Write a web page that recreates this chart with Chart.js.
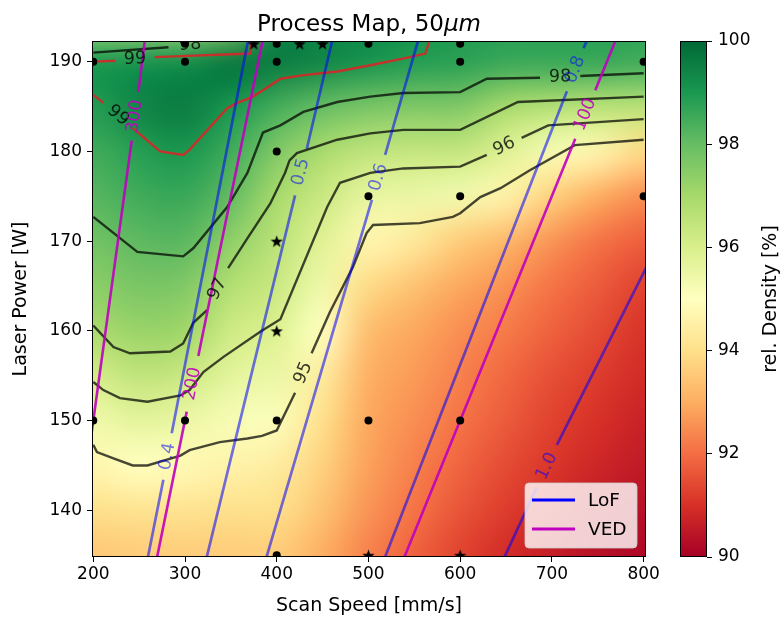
<!DOCTYPE html>
<html lang="en">
<head>
<meta charset="UTF-8">
<title>Process Map, 50µm</title>
<script src="https://cdn.jsdelivr.net/npm/chart.js"></script>
<style>
  body { margin: 0; background: #fff; }
  .wrap { position: relative; width: 784px; height: 618px; }
  #main { position: absolute; left: 0; top: 0; }
  #cbar { position: absolute; left: 640px; top: 0; }
</style>
</head>
<body>
<div class="wrap">
  <canvas id="main" width="784" height="618"></canvas>
  <canvas id="cbar" width="144" height="618"></canvas>
</div>
<script>
const FONT = "'DejaVu Sans', sans-serif";

// grid nodes of the density map: scan speed [mm/s] and laser power [W]
const speedGrid = [200, 250, 300, 350, 400, 450, 500, 550, 600, 650, 700, 750, 800];
const powerGrid = [135, 140, 145, 150, 155, 160, 165, 170, 175, 180, 185, 190, 195];
// rel. density [%], one row per power (bottom row first)
const density = [
  [93.5, 93.6, 93.6, 93.6, 93.6, 93.0, 92.3, 91.8, 91.3, 90.9, 90.6, 90.35, 90.15],
  [94.0, 94.1, 94.1, 94.0, 94.0, 93.4, 92.6, 92.1, 91.6, 91.2, 90.85, 90.55, 90.35],
  [94.7, 95.0, 94.8, 94.6, 94.4, 93.7, 92.8, 92.3, 91.85, 91.45, 91.1, 90.8, 90.55],
  [95.4, 95.7, 95.5, 95.2, 95.1, 94.0, 92.9, 92.5, 92.1, 91.7, 91.3, 91.0, 90.7],
  [96.1, 96.5, 96.3, 95.7, 95.5, 94.4, 93.05, 92.7, 92.3, 91.9, 91.5, 91.2, 90.9],
  [96.9, 97.2, 97.1, 96.2, 95.9, 95.0, 93.3, 92.9, 92.5, 92.2, 91.8, 91.45, 91.05],
  [97.4, 97.7, 97.6, 96.75, 96.3, 95.4, 93.9, 93.4, 92.9, 92.55, 92.1, 91.7, 91.3],
  [97.8, 98.1, 98.15, 97.35, 96.6, 95.8, 94.7, 94.3, 93.6, 93.2, 92.6, 92.1, 91.75],
  [98.2, 98.5, 98.6, 98.05, 96.95, 96.3, 95.6, 95.5, 95.35, 94.6, 93.7, 93.0, 92.5],
  [98.5, 98.85, 99.05, 98.5, 97.6, 96.9, 96.5, 96.4, 96.4, 95.85, 95.2, 94.7, 93.9],
  [98.9, 99.4, 99.6, 99.05, 98.45, 98.0, 97.7, 97.6, 97.6, 96.95, 96.7, 96.6, 96.6],
  [99.0, 99.1, 99.2, 99.7, 99.6, 99.4, 99.1, 98.9, 98.8, 98.6, 98.6, 98.6, 98.5],
  [96.4, 96.3, 96.2, 96.8, 99.3, 99.3, 99.3, 99.1, 98.9, 98.8, 98.8, 98.8, 98.7]
];

const xTicks = [200, 300, 400, 500, 600, 700, 800];
const yTicks = [140, 150, 160, 170, 180, 190];
const cbarTicks = [90, 92, 94, 96, 98, 100];

// sample points
const dotSpeed = [300, 400, 500, 600, 200, 300, 400, 600, 800, 400, 500, 600, 800, 200, 300, 400, 500, 600, 400];
const dotPower = [192, 192, 192, 192, 190, 190, 190, 190, 190, 180, 175, 175, 175, 150, 150, 150, 150, 150, 135];
const starSpeed = [375, 425, 450, 400, 400, 500, 600];
const starPower = [192, 192, 192, 170, 160, 135, 135];

// contour lines as [speed, power]; null = break where the label sits
const contour95 = [[200,147.3],[204,146.5],[222,145.8],[243,145.0],[259,145.0],[295,146.1],[305,146.7],[338,147.6],[368,148.0],[384,148.3],[400,148.9],[420,153.1],null,
  [438,157.5],[458,162.1],[483,167.1],[498,170.9],[505,171.8],[556,172.0],[592,172.7],[600,173.1],[622,174.9],[644,175.9],[676,177.9],[725,180.7],[800,181.3]];
const contour96 = [[200,154.3],[211,153.4],[229,152.5],[259,152.1],[295,152.8],[305,153.4],[320,155.4],[342,157.1],[382,159.9],[404,161.3],[455,173.8],[469,176.5],
  [502,177.6],[538,178.1],[600,178.3],[629,179.6],null,[667,181.5],[696,182.9],[800,183.6]];
const contour97 = [[200,160.6],[222,158.2],[240,157.5],[284,157.7],[298,158.6],[309,160.9],[324,162.3],null,[347,167.0],[368,170.3],[393,174.2],[409,177.6],
  [414,179.0],[422,179.8],[466,181.3],[502,182.0],[538,182.4],[600,182.4],[663,185.5],[800,186.1]];
const contour98 = [[200,172.7],[248,168.8],[298,168.3],[309,169.2],[346,173.8],[368,177.6],[385,182.1],[404,182.9],[429,184.4],[466,185.5],[502,186.1],
  [538,186.5],[600,186.6],[629,188.1],[687,188.2],null,[731,188.4],[800,188.7]];
const contour98top = [[200,191.0],[282,191.6]];
const contour99low = [[200,186.3],[211,185.4],null,[243,182.6],[273,180.0],[298,179.6],[305,180.2],[346,184.8],[357,185.4],[374,186.1],[385,186.8],
  [404,188.1],[429,188.5],[466,188.9],[502,189.6],[545,190.5],[562,190.9],[567,192.5]];
const contour99up = [[200,190.0],[224,190.1],null,[267,190.5],[371,190.9],[373,192.5]];

// LoF lines
const lof04 = [[259,134.5],[276.4,143.4],null,[285.5,148.6],[370,193]];
const lof05 = [[323,134.5],[420,175.1],null,[432.8,180.3],[462,193]];
const lof06 = [[388,134.5],[503.7,174.6],null,[518.2,179.6],[556,193]];
const lof08 = [[517,134.5],[716.4,186.7],null,[734.5,191.5],[741,193]];
const lof10 = [[647,134.5],[683.7,142.6],null,[705.5,147.3],[805,167.5]];
// VED lines
const ved300 = [[198,148.5],[241.9,181.2],null,[249.1,186.6],[257,193]];
const ved200 = [[269,134.5],[301.9,151.0],null,[314.5,157.2],[386,193]];
const ved100 = [[538,134.5],[725.5,181.4],null,[747.3,186.8],[772,193]];

const lofLines = [lof04, lof05, lof06, lof08, lof10];
const lofText = ['0.4', '0.5', '0.6', '0.8', '1.0'];
const lofLabelAt = [[281,146.0],[426.4,177.7],[511,177.1],[725.5,189.1],[694.6,144.9]];
const vedLines = [ved300, ved200, ved100];
const vedText = ['300', '200', '100'];
const vedLabelAt = [[245.5,183.9],[308.2,154.1],[736.4,184.1]];

const contourText = ['99', '99', '98', '98', '96', '97', '95'];
const contourLabelAt = [[245.5,190.3],[227,184.0],[305.6,191.9],[709,188.3],[648,180.55],[335.5,164.65],[429,155.3]];
const contourAngle = [-2, 40, -4, -1, -26, -63, -67];

const titleMain = 'Process Map, 50';
const titleUnit = 'μm';

// RdYlGn colormap anchors
const rdylgn = [[165,0,38],[215,48,39],[244,109,67],[253,174,97],[254,224,139],[255,255,191],
  [217,239,139],[166,217,106],[102,189,99],[26,152,80],[0,104,55]];
const vmin = 90, vmax = 100;

function cmap(v) {
  let t = (v - vmin) / (vmax - vmin);
  t = Math.max(0, Math.min(1, t)) * (rdylgn.length - 1);
  const i = Math.min(Math.floor(t), rdylgn.length - 2), f = t - i;
  const a = rdylgn[i], b = rdylgn[i + 1];
  return [0, 1, 2].map(k => Math.round(a[k] + (b[k] - a[k]) * f));
}

const toPts = arr => arr.map(p => p ? { x: p[0], y: p[1] } : { x: 0, y: null });

function makeStar(r) {
  const c = document.createElement('canvas');
  const s = Math.ceil(r * 2 + 2);
  c.width = c.height = s;
  const g = c.getContext('2d');
  g.translate(s / 2, s / 2 + r * 0.1);
  g.beginPath();
  for (let k = 0; k < 10; k++) {
    const rad = k % 2 ? r * 0.4 : r;
    const ang = -Math.PI / 2 + k * Math.PI / 5;
    g.lineTo(rad * Math.cos(ang), rad * Math.sin(ang));
  }
  g.closePath();
  g.fillStyle = '#000';
  g.fill();
  return c;
}

const BLACK = 'rgba(0,0,0,0.72)';
const RED = 'rgba(214,39,40,0.9)';
const BLUE = 'rgba(0,0,255,0.55)';
const MAGENTA = 'rgba(191,0,191,0.9)';

function lineSet(arr, color, width, label) {
  return { label: label || '', data: toPts(arr), showLine: true, borderColor: color, borderWidth: width,
    pointRadius: 0, fill: false, tension: 0, clip: 0 };
}

const datasets = [
  { label: 'samples', data: dotSpeed.map((v, i) => ({ x: v, y: dotPower[i] })), pointRadius: 4,
    pointStyle: 'circle', backgroundColor: '#000', borderWidth: 0, clip: 0 },
  { label: 'selected', data: starSpeed.map((v, i) => ({ x: v, y: starPower[i] })), pointRadius: 6,
    pointStyle: makeStar(6.5), backgroundColor: '#000', borderWidth: 0, clip: 0 },
  ...vedLines.map((l, i) => lineSet(l, MAGENTA, 2.6, i === 0 ? 'VED' : '')),
  ...lofLines.map((l, i) => lineSet(l, BLUE, 2.7, i === 0 ? 'LoF' : '')),
  lineSet(contour99low, RED, 2.4),
  lineSet(contour99up, RED, 2.4),
  lineSet(contour98top, BLACK, 2.4),
  lineSet(contour98, BLACK, 2.4),
  lineSet(contour97, BLACK, 2.4),
  lineSet(contour96, BLACK, 2.4),
  lineSet(contour95, BLACK, 2.4)
];

let heatImage = null;
function buildHeat() {
  const nx = speedGrid.length, ny = powerGrid.length;
  const c = document.createElement('canvas');
  c.width = nx; c.height = ny;
  const g = c.getContext('2d');
  const img = g.createImageData(nx, ny);
  for (let j = 0; j < ny; j++) {
    for (let i = 0; i < nx; i++) {
      const col = cmap(density[j][i]);
      const k = ((ny - 1 - j) * nx + i) * 4;
      img.data[k] = col[0]; img.data[k + 1] = col[1]; img.data[k + 2] = col[2]; img.data[k + 3] = 255;
    }
  }
  g.putImageData(img, 0, 0);
  return c;
}

function drawText(ctx, text, x, y, deg, color, font) {
  ctx.save();
  ctx.translate(x, y);
  ctx.rotate(deg * Math.PI / 180);
  ctx.font = font;
  ctx.fillStyle = color;
  ctx.textAlign = 'center';
  ctx.textBaseline = 'middle';
  ctx.fillText(text, 0, 0);
  ctx.restore();
}

function lineAngle(line, xs, ys) {
  const a = line[0], b = line[line.length - 1];
  const dx = xs.getPixelForValue(b[0]) - xs.getPixelForValue(a[0]);
  const dy = ys.getPixelForValue(b[1]) - ys.getPixelForValue(a[1]);
  let ang = Math.atan2(dy, dx) * 180 / Math.PI;
  if (ang > 90) ang -= 180;
  if (ang < -90) ang += 180;
  return ang;
}

function roundRectPath(ctx, x, y, w, h, r) {
  ctx.beginPath();
  ctx.moveTo(x + r, y);
  ctx.arcTo(x + w, y, x + w, y + h, r);
  ctx.arcTo(x + w, y + h, x, y + h, r);
  ctx.arcTo(x, y + h, x, y, r);
  ctx.arcTo(x, y, x + w, y, r);
  ctx.closePath();
}

const legendItems = [{ text: 'LoF', color: '#0000ff' }, { text: 'VED', color: '#bf00bf' }];

const heatPlugin = {
  id: 'heat',
  beforeDatasetsDraw(chart) {
    const { ctx, chartArea: a, scales: { x, y } } = chart;
    if (!heatImage) heatImage = buildHeat();
    const hx = (speedGrid[1] - speedGrid[0]) / 2, hy = (powerGrid[1] - powerGrid[0]) / 2;
    const x0 = x.getPixelForValue(speedGrid[0] - hx);
    const x1 = x.getPixelForValue(speedGrid[speedGrid.length - 1] + hx);
    const y0 = y.getPixelForValue(powerGrid[powerGrid.length - 1] + hy);
    const y1 = y.getPixelForValue(powerGrid[0] - hy);
    ctx.save();
    ctx.beginPath();
    ctx.rect(a.left, a.top, a.right - a.left, a.bottom - a.top);
    ctx.clip();
    ctx.imageSmoothingEnabled = true;
    ctx.imageSmoothingQuality = 'high';
    ctx.drawImage(heatImage, x0, y0, x1 - x0, y1 - y0);
    ctx.restore();
  }
};

const overlayPlugin = {
  id: 'overlay',
  afterDatasetsDraw(chart) {
    const { ctx, chartArea: a, scales: { x, y } } = chart;
    const lf = `17.5px ${FONT}`;
    ctx.save();
    ctx.beginPath();
    ctx.rect(a.left, a.top, a.right - a.left, a.bottom - a.top);
    ctx.clip();
    contourText.forEach((t, i) => {
      const p = contourLabelAt[i];
      drawText(ctx, t, x.getPixelForValue(p[0]), y.getPixelForValue(p[1]), contourAngle[i], 'rgba(0,0,0,0.78)', lf);
    });
    lofText.forEach((t, i) => {
      const p = lofLabelAt[i];
      drawText(ctx, t, x.getPixelForValue(p[0]), y.getPixelForValue(p[1]), lineAngle(lofLines[i], x, y), BLUE, lf);
    });
    vedText.forEach((t, i) => {
      const p = vedLabelAt[i];
      drawText(ctx, t, x.getPixelForValue(p[0]), y.getPixelForValue(p[1]), lineAngle(vedLines[i], x, y), MAGENTA, lf);
    });
    ctx.restore();

    // axes frame
    ctx.save();
    ctx.strokeStyle = '#000';
    ctx.lineWidth = 1;
    ctx.strokeRect(a.left + 0.5, a.top + 0.5, a.right - a.left - 1, a.bottom - a.top - 1);
    ctx.restore();

    // legend, lower right
    const w = 112, h = 65;
    const lx = a.right - 9 - w, ly = a.bottom - 9 - h;
    ctx.save();
    roundRectPath(ctx, lx, ly, w, h, 4);
    ctx.fillStyle = 'rgba(255,255,255,0.8)';
    ctx.fill();
    ctx.strokeStyle = 'rgba(204,204,204,0.8)';
    ctx.lineWidth = 1;
    ctx.stroke();
    legendItems.forEach((it, i) => {
      const yy = ly + 17 + i * 29;
      ctx.beginPath();
      ctx.moveTo(lx + 7, yy);
      ctx.lineTo(lx + 50, yy);
      ctx.strokeStyle = it.color;
      ctx.lineWidth = 3;
      ctx.stroke();
      ctx.fillStyle = '#000';
      ctx.font = `18.5px ${FONT}`;
      ctx.textAlign = 'left';
      ctx.textBaseline = 'middle';
      ctx.fillText(it.text, lx + 63, yy + 1);
    });
    ctx.restore();
  },
  afterDraw(chart) {
    const { ctx, chartArea: a } = chart;
    ctx.save();
    const f1 = `23px ${FONT}`, f2 = `italic 23px ${FONT}`;
    ctx.font = f1;
    const w1 = ctx.measureText(titleMain).width;
    ctx.font = f2;
    const w2 = ctx.measureText(titleUnit).width;
    const x0 = (a.left + a.right) / 2 - (w1 + w2) / 2;
    ctx.fillStyle = '#000';
    ctx.textAlign = 'left';
    ctx.textBaseline = 'alphabetic';
    ctx.font = f1;
    ctx.fillText(titleMain, x0, a.top - 10);
    ctx.font = f2;
    ctx.fillText(titleUnit, x0 + w1, a.top - 10);
    ctx.restore();
  }
};

const tickFont = { family: FONT, size: 17 };
const labelFont = { family: FONT, size: 19 };

new Chart(document.getElementById('main'), {
  type: 'scatter',
  data: { datasets },
  options: {
    responsive: false,
    animation: false,
    devicePixelRatio: 1,
    layout: { padding: { left: 0, right: 138, top: 41, bottom: 0 } },
    plugins: { legend: { display: false }, tooltip: { enabled: false }, title: { display: false } },
    scales: {
      x: {
        type: 'linear', min: 198.6, max: 802.6,
        afterFit: s => { s.height = 61; },
        afterBuildTicks: s => { s.ticks = xTicks.map(v => ({ value: v })); },
        grid: { drawOnChartArea: false, drawTicks: true, tickLength: 5, color: '#000', lineWidth: 1 },
        border: { display: false },
        ticks: { font: tickFont, color: '#000', padding: 2, maxRotation: 0 },
        title: { display: true, text: 'Scan Speed [mm/s]', font: labelFont, color: '#000', padding: { top: 0, bottom: 1 } }
      },
      y: {
        type: 'linear', min: 134.8, max: 192.3,
        afterFit: s => { s.width = 92; },
        afterBuildTicks: s => { s.ticks = yTicks.map(v => ({ value: v })); },
        grid: { drawOnChartArea: false, drawTicks: true, tickLength: 5, color: '#000', lineWidth: 1 },
        border: { display: false },
        ticks: { font: tickFont, color: '#000', padding: 5 },
        title: { display: true, text: 'Laser Power [W]', font: labelFont, color: '#000', padding: { top: 10, bottom: 0 } }
      }
    }
  },
  plugins: [heatPlugin, overlayPlugin]
});

// colorbar
const cbarPlugin = {
  id: 'cbarFill',
  beforeDatasetsDraw(chart) {
    const { ctx, chartArea: a, scales: { y } } = chart;
    const g = ctx.createLinearGradient(0, y.getPixelForValue(vmin), 0, y.getPixelForValue(vmax));
    rdylgn.forEach((c, i) => g.addColorStop(i / (rdylgn.length - 1), `rgb(${c[0]},${c[1]},${c[2]})`));
    ctx.save();
    ctx.fillStyle = g;
    ctx.fillRect(a.left, a.top, a.right - a.left, a.bottom - a.top);
    ctx.strokeStyle = '#000';
    ctx.lineWidth = 1;
    ctx.strokeRect(a.left + 0.5, a.top + 0.5, a.right - a.left - 1, a.bottom - a.top - 1);
    ctx.restore();
  },
  afterDraw(chart) {
    const { ctx, chartArea: a } = chart;
    ctx.save();
    ctx.translate(131, (a.top + a.bottom) / 2);
    ctx.rotate(-Math.PI / 2);
    ctx.font = `19px ${FONT}`;
    ctx.fillStyle = '#000';
    ctx.textAlign = 'center';
    ctx.textBaseline = 'middle';
    ctx.fillText('rel. Density [%]', 0, 0);
    ctx.restore();
  }
};

new Chart(document.getElementById('cbar'), {
  type: 'scatter',
  data: { datasets: [] },
  options: {
    responsive: false,
    animation: false,
    devicePixelRatio: 1,
    layout: { padding: { left: 40, right: 0, top: 41, bottom: 61 } },
    plugins: { legend: { display: false }, tooltip: { enabled: false } },
    scales: {
      x: { display: false, min: 0, max: 1 },
      y: {
        position: 'right', min: vmin, max: vmax,
        afterFit: s => { s.width = 77; },
        afterBuildTicks: s => { s.ticks = cbarTicks.map(v => ({ value: v })); },
        grid: { drawOnChartArea: false, drawTicks: true, tickLength: 5, color: '#000', lineWidth: 1 },
        border: { display: false },
        ticks: { font: tickFont, color: '#000', padding: 6 }
      }
    }
  },
  plugins: [cbarPlugin]
});
</script>
</body>
</html>
